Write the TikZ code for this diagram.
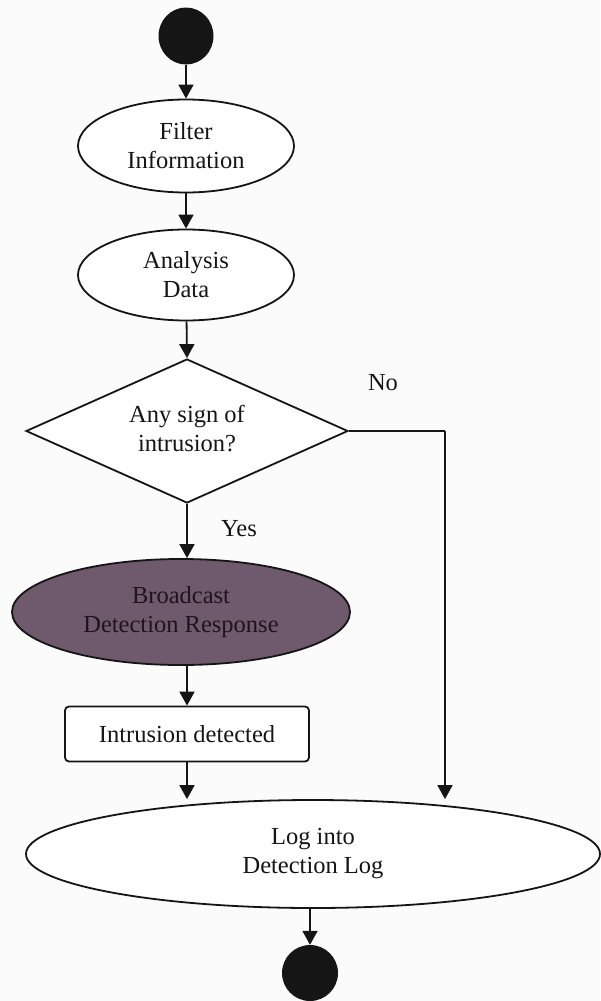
\documentclass[tikz,border=0pt]{standalone}
\usepackage{fontspec}
\setmainfont{Liberation Serif}
\usetikzlibrary{shapes.geometric,arrows.meta}
\definecolor{inkline}{HTML}{151515}
\definecolor{mauve}{HTML}{6E5A6C}
\definecolor{mauvetext}{HTML}{1E141C}
\definecolor{paper}{HTML}{FBFBFB}
\tikzset{
  every node/.style={font=\fontsize{24.5}{29}\selectfont, text=inkline, align=center},
  flow/.style={draw=inkline, line width=1.8pt, -{Triangle[width=15pt,length=14pt]}},
  plainline/.style={draw=inkline, line width=1.8pt},
  terminal/.style={ellipse, fill=inkline, inner sep=0pt},
  activity/.style={ellipse, draw=inkline, line width=1.8pt, fill=white, inner sep=0pt},
  decision/.style={diamond, draw=inkline, line width=1.8pt, fill=white, inner sep=0pt},
  stepbox/.style={rectangle, rounded corners=4pt, draw=inkline, line width=1.8pt, fill=white, inner sep=0pt},
}
\begin{document}
\begin{tikzpicture}[x=1pt,y=-1pt]
  \fill[paper] (0,0) rectangle (600,1001);
  \useasboundingbox (0,0) rectangle (600,1001);

  % start and end markers
  \node[terminal, minimum width=55pt, minimum height=57pt] (start) at (186,36) {};
  \node[terminal, minimum width=56pt, minimum height=56pt] (stop) at (310,973) {};

  % activities
  \node[activity, minimum width=216pt, minimum height=93pt] (filter) at (186,146) {Filter\\Information};
  \node[activity, minimum width=216pt, minimum height=91pt] (analysis) at (186,275) {Analysis\\Data};
  \node[decision, minimum width=322pt, minimum height=144pt] (sign) at (187,431) {};
  \node at (187,429) {Any sign of\\intrusion?};
  \node[ellipse, draw=inkline, line width=1.8pt, fill=mauve, inner sep=0pt,
        minimum width=338pt, minimum height=106pt,
        text=mauvetext] (broadcast) at (181,612) {Broadcast\\Detection Response};
  \node[stepbox, minimum width=244pt, minimum height=55pt] (detected) at (187,734) {Intrusion detected};
  \node[activity, minimum width=574pt, minimum height=108pt] (log) at (313,854) {Log into\\Detection Log};

  % branch labels
  \node (nolabel) at (383,383) {No};
  \node (yeslabel) at (239,529) {Yes};

  % connectors
  \coordinate (noturn) at (445,431);
  \draw[flow] (start) -- (filter);
  \draw[flow] (filter) -- (analysis);
  \draw[flow] (analysis) -- (sign.north);
  \draw[flow] (sign.south) -- (sign.south |- broadcast.north);
  \draw[flow] (broadcast.south -| detected.north) -- (detected.north);
  \draw[flow] (detected.south) -- (detected.south |- log.north);
  \draw[plainline] (sign.east) -- (noturn);
  \draw[flow] (noturn) -- (noturn |- log.north);
  \draw[flow] (log.south -| stop.north) -- (stop.north);
\end{tikzpicture}
\end{document}
